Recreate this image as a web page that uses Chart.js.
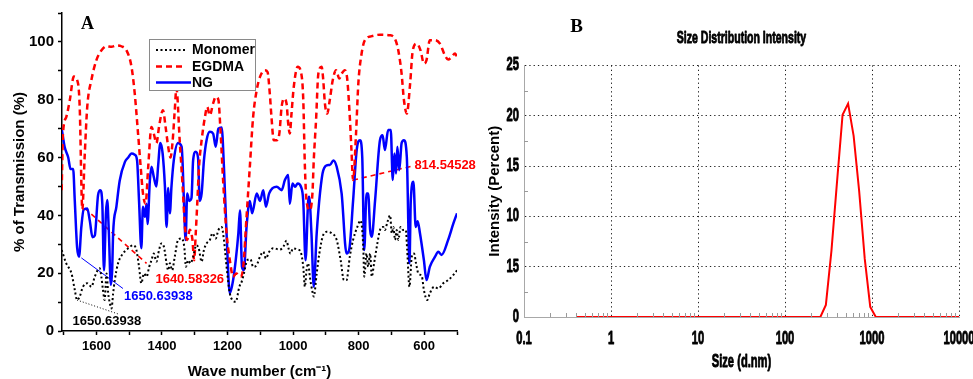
<!DOCTYPE html>
<html><head><meta charset="utf-8">
<script src="https://cdn.jsdelivr.net/npm/chart.js@4.4.1/dist/chart.umd.min.js"></script>
<style>
html,body{margin:0;padding:0;background:#fff;overflow:hidden;width:973px;height:379px}
#ca{position:absolute;left:0;top:0}
#cb{position:absolute;left:480px;top:0}
</style></head><body>
<canvas id="ca" width="480" height="379"></canvas>
<canvas id="cb" width="493" height="379"></canvas>
<script>
// ---------- Panel A data (FTIR) ----------
const monoWave = [1706,1692,1676,1666,1659,1651,1641,1628,1615,1605,
1590,1585,1580,1575,1569,1564,1559,1554,1549,1544,
1534,1519,1503,1488,1478,1470,1463,1455,1447,1439,
1432,1425,1417,1409,1402,1394,1386,1381,1376,1369,
1361,1351,1340,1332,1327,1320,1313,1305,1295,1288,
1279,1272,1264,1254,1246,1236,1228,1218,1211,1203,
1193,1185,1175,1164,1157,1150,1140,1130,1122,1111,
1101,1091,1083,1073,1061,1040,1030,1020,1014,1008,
1000,986,977,969,964,959,954,949,942,937,
928,920,910,898,882,867,855,845,837,827,
817,804,794,786,783,776,771,765,760,753,
743,735,725,720,712,704,699,694,689,684,
679,672,664,656,652,645,638,631,625,618,
607,601,591,583,570,557,542,527,511,500];
const monoT = [28,23.4,19.9,14.2,10.7,11.9,15.3,16.5,15.3,18.8,
21.7,18.8,14.2,10.7,19.9,13,9.6,7.8,13,17.6,
23.4,26.8,28.6,29.7,28,22.2,16.5,19.9,18.8,22.2,
24.5,26.8,24,28,30.3,29.1,23.4,21,23.4,21,
25.7,31.5,32,29.1,22.2,24.5,23.4,25.7,29.7,28.6,
24,28,30.3,31.5,33.8,32,34.9,36,31.5,22.2,
13,10.7,10.1,15.3,17,19.9,24.5,24.8,22.2,22.8,
25.7,27.4,25.1,27.4,28.6,28.2,29.1,31.2,28.6,26.8,
28.6,28.2,27.4,22.2,15.3,21,23.4,18.8,14.2,11.9,
19.9,26.8,32.6,34.3,33.8,31.5,24.5,17.6,17.6,25.7,
31.5,36,38.2,29.1,18.8,26.8,22.2,26.8,18.8,23.4,
30.3,34.9,36,34.9,37.8,40,33.8,36,31.5,34.9,
31.5,36,34.9,34.9,28,15.3,25.7,26.8,23.4,19.9,
18.8,14.2,10.7,13,15.3,14.7,16.5,17.6,19.4,21];

const egWave = [1706,1702,1692,1681,1669,1656,1651,1643,1636,1628,
1615,1600,1585,1569,1554,1539,1524,1508,1493,1483,
1473,1465,1458,1450,1442,1432,1425,1417,1409,1402,
1397,1389,1381,1374,1368,1361,1356,1346,1337,1330,
1323,1315,1307,1302,1297,1292,1287,1279,1269,1262,
1254,1244,1236,1228,1221,1213,1203,1193,1183,1173,
1160,1152,1142,1132,1122,1111,1101,1086,1078,1071,
1066,1059,1050,1042,1035,1028,1020,1015,1010,1005,
998,986,976,969,964,959,949,941,937,930,
923,913,908,903,896,888,879,869,859,852,
842,835,827,822,817,808,801,791,781,760,
735,705,689,679,669,662,653,643,635,623,
611,601,593,583,567,552,537,527,516,506,500];
const egT = [48.7,68.3,74,80,88,85.6,77.5,42,60,77.5,
87,93.7,97,98.5,98.3,98.8,98.5,97,91.4,82,
68.3,56.8,47.6,44,56.8,70.6,68.3,65,70.6,75,
76.4,70.6,63.7,60,65,76.4,84,66,50,36,
31.5,35,31.5,24.5,33.8,45,56.8,66,74,77.5,
74.6,78.7,81,80,68.3,51,33.8,24.5,18.8,19.9,
18.8,22.2,39.5,56.8,74,83.3,87.9,90.2,89.6,82,
74,66,66,68.3,77.5,80.4,78.7,71.8,68.3,75,
84.4,91.4,89.6,80,56.8,45,41.8,47.6,59,72.9,
89,91.4,86.8,78.7,75.2,80,86.8,90.2,87.3,89,
90.2,87.3,74,62.6,52.2,68.3,85.6,96,100.6,102,
102.5,102.3,101,97,89,80,75.2,85.6,97,99.4,
97,92.5,93.7,100.6,100.6,99.4,95.4,93.9,94.8,96,94.8];

const ngWave = [1706,1697,1686,1679,1671,1666,1659,1653,1646,1639,
1628,1620,1612,1605,1595,1588,1582,1577,1571,1567,
1562,1556,1552,1549,1539,1529,1513,1503,1493,1483,
1476,1470,1463,1458,1452,1447,1444,1437,1432,1425,
1417,1412,1405,1398,1391,1386,1381,1376,1371,1364,
1351,1340,1333,1328,1323,1317,1310,1305,1297,1290,
1285,1279,1272,1264,1254,1244,1236,1228,1218,1211,
1203,1193,1183,1175,1167,1162,1156,1150,1142,1132,
1125,1111,1101,1091,1083,1073,1050,1035,1025,1015,
1010,1002,994,986,976,969,962,954,951,944,
937,928,918,908,893,888,877,867,852,837,
829,817,806,796,789,783,776,771,765,760,
750,735,727,720,710,702,696,691,686,682,
676,669,662,653,645,641,633,626,620,613,
601,593,583,567,557,547,527,511,500];
const ngT = [70,63.7,60,56,56,45,29,25.7,36,42,
42.4,38,32.4,33,47,48.7,44,21,40.7,45.3,
33.8,16,21,33.8,43,52,58.5,60,61.4,61,
59,45,28.6,43,39.5,44,37,52,56.8,53.3,
50,56.8,65,61.4,50,36,49.5,40.7,50,59,
65,63.7,45,31.5,47.6,45,46,59,62,60,
45,47.6,59,66,68.9,68.3,63.7,70,70.4,56.8,
33.8,13,17.6,24.5,33.8,41.8,22.2,21,36,45,
40.7,47.6,45,48.7,43,47.6,49.9,48.7,52.2,54,
44,51,49.9,51,49.9,45,24.5,45,46.4,33.8,
15.3,33.8,47.6,55.6,57.4,57.4,59,56.8,47.6,26.8,
28,45,62.6,66,60,28,47.6,47.6,35,32.6,
45,66,67.7,62.6,69.5,69.5,52.2,61.4,54.5,63.7,
55.6,65,66,60,23.4,45,51.6,36,38,33.8,
24.5,17.6,22.2,25.7,27.4,26.3,31.5,37.2,40.7];

const waveTicks = [1600,1400,1200,1000,800,600];
const transTicks = [0,20,40,60,80,100];

// peak annotations: pointer lines (wave, value) and label texts
const annText = ['1640.58326','1650.63938','1650.63938','814.54528'];
const annLineWave = [[1636,1447],[1646,1519],[1659,1534],[817,638]];
const annLineT = [[42.5,23.4],[25.3,14.7],[10.7,5.9],[52.2,57]];
const annTextWave = [1420,1516,1673,630];
const annTextT = [17.9,11.9,3.2,57.2];

// ---------- Panel B data (DLS) ----------
const sizeNm = [0.4,255,295,342,396,459,531,615,712,825,955,1106,10000];
const intensityPct = [0,0,1.2,6.6,13.4,20.1,21.2,18.0,12.5,5.8,1.0,0,0];
const sizeTickVals = [0.1,1,10,100,1000,10000];
const sizeTickLabels = ['0.1','1','10','100','1000','10000'];
const intensityTickVals = [0,5,10,15,20,25];
const intensityTickLabels = ['0','15','10','15','20','25'];

// ---------- helpers ----------
const pts = (xs, ys) => xs.map((x, i) => ({x: x, y: ys[i]}));
const FA = '"Liberation Sans", Arial, Helvetica, sans-serif';
const FN = 'NarrowCondensed, "Liberation Sans", Arial, sans-serif';
const FS = '"Liberation Serif", "Times New Roman", serif';
const NARROW = 0.62;

const annColors = ['#ff0000','#0000ff','#000000','#ff0000'];
const annDash = [[5,4],[],[1,2],[5,4]];
const annWidth = [1.6,1,1,1.6];
const annSets = annText.map((t, i) => ({
  label: 'ann' + i,
  data: pts(annLineWave[i], annLineT[i]),
  borderColor: annColors[i], borderWidth: annWidth[i], borderDash: annDash[i],
  pointRadius: 0, tension: 0, fill: false
}));

const panelAPlugin = {
  id: 'panelA',
  afterDraw(chart) {
    const {ctx, scales: {x, y}} = chart;
    ctx.save();
    ctx.font = 'bold 13px ' + FA;
    ctx.textAlign = 'left'; ctx.textBaseline = 'middle';
    annText.forEach((t, i) => {
      ctx.fillStyle = annColors[i];
      ctx.fillText(t, x.getPixelForValue(annTextWave[i]), y.getPixelForValue(annTextT[i]));
    });
    ctx.fillStyle = '#fff';
    ctx.fillRect(149, 39, 107, 52);
    ctx.strokeStyle = '#8a8a8a'; ctx.lineWidth = 1;
    ctx.strokeRect(149.5, 39.5, 106, 51);
    const rows = [50, 66.5, 82.5];
    const ends = [185, 185, 191];
    [0,1,2].forEach(i => {
      const ds = chart.data.datasets[i];
      ctx.strokeStyle = ds.borderColor; ctx.lineWidth = ds.borderWidth;
      ctx.setLineDash(ds.borderDash || []);
      ctx.beginPath(); ctx.moveTo(156, rows[i]); ctx.lineTo(ends[i], rows[i]); ctx.stroke();
      ctx.setLineDash([]);
      ctx.fillStyle = '#000'; ctx.font = 'bold 14px ' + FA;
      ctx.fillText(ds.label, 192, rows[i] + 0.5);
    });
    ctx.font = 'bold 18px ' + FS; ctx.fillStyle = '#000'; ctx.textAlign = 'center';
    ctx.fillText('A', 87.5, 24);
    ctx.restore();
  }
};

new Chart(document.getElementById('ca'), {
  type: 'line',
  data: {datasets: [
    {label: 'Monomer', data: pts(monoWave, monoT), borderColor: '#000000', borderWidth: 2, borderDash: [2, 2.5],
     pointRadius: 0, cubicInterpolationMode: 'monotone', fill: false},
    {label: 'EGDMA', data: pts(egWave, egT), borderColor: '#ff0000', borderWidth: 2.5, borderDash: [6, 4],
     pointRadius: 0, cubicInterpolationMode: 'monotone', fill: false},
    {label: 'NG', data: pts(ngWave, ngT), borderColor: '#0000ff', borderWidth: 2.5,
     pointRadius: 0, cubicInterpolationMode: 'monotone', fill: false}
  ].concat(annSets)},
  options: {
    responsive: false, animation: false,
    layout: {padding: {left: 0, right: 23, top: 12, bottom: 0}},
    plugins: {legend: {display: false}, tooltip: {enabled: false}},
    scales: {
      x: {
        type: 'linear', reverse: true, min: 500, max: 1705,
        afterBuildTicks: s => { const t = []; for (let v = 500; v <= 1700; v += 100) t.push({value: v}); s.ticks = t; },
        afterFit: s => { s.height = 48; },
        ticks: {autoSkip: false, maxRotation: 0, padding: 4, color: '#000',
          font: {family: FA, weight: 'bold', size: 13},
          callback: v => waveTicks.includes(v) ? String(v) : ''},
        grid: {drawOnChartArea: false, drawTicks: true, tickLength: 4, tickColor: '#000', tickWidth: 1.5},
        border: {display: true, color: '#000', width: 1.5},
        title: {display: true, text: 'Wave number (cm⁻¹)', color: '#000',
          font: {family: FA, weight: 'bold', size: 15, lineHeight: 1}, padding: {top: 0, bottom: 0}}
      },
      y: {
        min: 0, max: 110,
        afterBuildTicks: s => { const t = []; for (let v = 0; v <= 110; v += 10) t.push({value: v}); s.ticks = t; },
        afterFit: s => { s.width = 62; },
        ticks: {autoSkip: false, padding: 4, color: '#000',
          font: {family: FA, weight: 'bold', size: 15},
          callback: v => transTicks.includes(v) ? String(v) : ''},
        grid: {drawOnChartArea: false, drawTicks: true, tickLength: 4, tickColor: '#000', tickWidth: 1.5},
        border: {display: true, color: '#000', width: 1.5},
        title: {display: true, text: '% of Transmission (%)', color: '#000',
          font: {family: FA, weight: 'bold', size: 15}, padding: {top: 11, bottom: 0}}
      }
    }
  },
  plugins: [panelAPlugin]
});

// ---------- Panel B ----------
const panelBPlugin = {
  id: 'panelB',
  beforeInit(chart) {
    // condensed, heavy rendering for the narrow-font texts of this panel
    const ctx = chart.ctx;
    const orig = ctx.fillText;
    ctx.fillText = function (t, x, y, mw) {
      if (String(this.font).indexOf('NarrowCondensed') >= 0) {
        this.save(); this.translate(x, y); this.scale(NARROW, 1);
        orig.call(this, t, 0, 0);
        this.strokeStyle = this.fillStyle; this.lineWidth = 0.9; this.lineJoin = 'round';
        this.setLineDash([]);
        this.strokeText(t, 0, 0);
        this.restore();
      } else if (mw === undefined || mw === null) {
        orig.call(this, t, x, y);
      } else {
        orig.call(this, t, x, y, mw);
      }
    };
  },
  afterDraw(chart) {
    const {ctx, chartArea: a, scales: {x, y}} = chart;
    ctx.save();
    ctx.strokeStyle = '#9a9a9a'; ctx.lineWidth = 1;
    for (let e = -1; e < 4; e++) for (let m = 2; m < 10; m++) {
      const px = Math.round(x.getPixelForValue(m * Math.pow(10, e))) + 0.5;
      ctx.beginPath(); ctx.moveTo(px, a.bottom); ctx.lineTo(px, a.bottom - 4); ctx.stroke();
    }
    for (let v = 2.5; v < 25; v += 5) {
      const py = Math.round(y.getPixelForValue(v)) + 0.5;
      ctx.beginPath(); ctx.moveTo(a.left, py); ctx.lineTo(a.left + 4, py); ctx.stroke();
    }
    ctx.font = 'bold 19px ' + FS; ctx.fillStyle = '#000';
    ctx.textAlign = 'center'; ctx.textBaseline = 'middle';
    ctx.fillText('B', 96.5, 27);
    ctx.restore();
  }
};

new Chart(document.getElementById('cb'), {
  type: 'line',
  data: {datasets: [
    {label: 'Intensity', data: pts(sizeNm, intensityPct), borderColor: '#ff0000', borderWidth: 2,
     pointRadius: 0, tension: 0, fill: false}
  ]},
  options: {
    responsive: false, animation: false,
    layout: {padding: {left: 0, right: 14, top: 0, bottom: 0}},
    plugins: {
      legend: {display: false}, tooltip: {enabled: false},
      title: {display: true, fullSize: false, text: 'Size Distribution Intensity', color: '#000',
        font: {family: FN, weight: 'bold', size: 17}, padding: {top: 28, bottom: 17}}
    },
    scales: {
      x: {
        type: 'logarithmic', min: 0.1, max: 10000,
        afterBuildTicks: s => { s.ticks = sizeTickVals.map(v => ({value: v})); },
        afterFit: s => { s.height = 62; s.paddingLeft = 0; s.paddingRight = 0; },
        ticks: {autoSkip: false, maxRotation: 0, padding: 11, color: '#000',
          font: {family: FN, weight: 'bold', size: 18},
          callback: (v, i) => sizeTickLabels[i]},
        grid: {drawOnChartArea: true, drawTicks: false, color: '#222', lineWidth: 1},
        border: {display: true, color: '#a8a8a8', width: 1, dash: [1.3, 3]},
        title: {display: true, text: 'Size (d.nm)', color: '#000',
          font: {family: FN, weight: 'bold', size: 18}, padding: {top: 0, bottom: 6}}
      },
      y: {
        min: 0, max: 25,
        afterBuildTicks: s => { s.ticks = intensityTickVals.map(v => ({value: v})); },
        afterFit: s => { s.width = 44; s.paddingTop = 0; s.paddingBottom = 0; },
        ticks: {autoSkip: false, padding: 5, color: '#000',
          font: {family: FN, weight: 'bold', size: 18},
          callback: (v, i) => intensityTickLabels[i]},
        grid: {drawOnChartArea: true, drawTicks: false, color: '#222', lineWidth: 1},
        border: {display: true, color: '#a8a8a8', width: 1, dash: [1.3, 3]},
        title: {display: true, text: 'Intensity (Percent)', color: '#000',
          font: {family: FA, weight: 'bold', size: 15}, padding: {top: 6, bottom: 0}}
      }
    }
  },
  plugins: [panelBPlugin]
});
</script>
</body></html>
